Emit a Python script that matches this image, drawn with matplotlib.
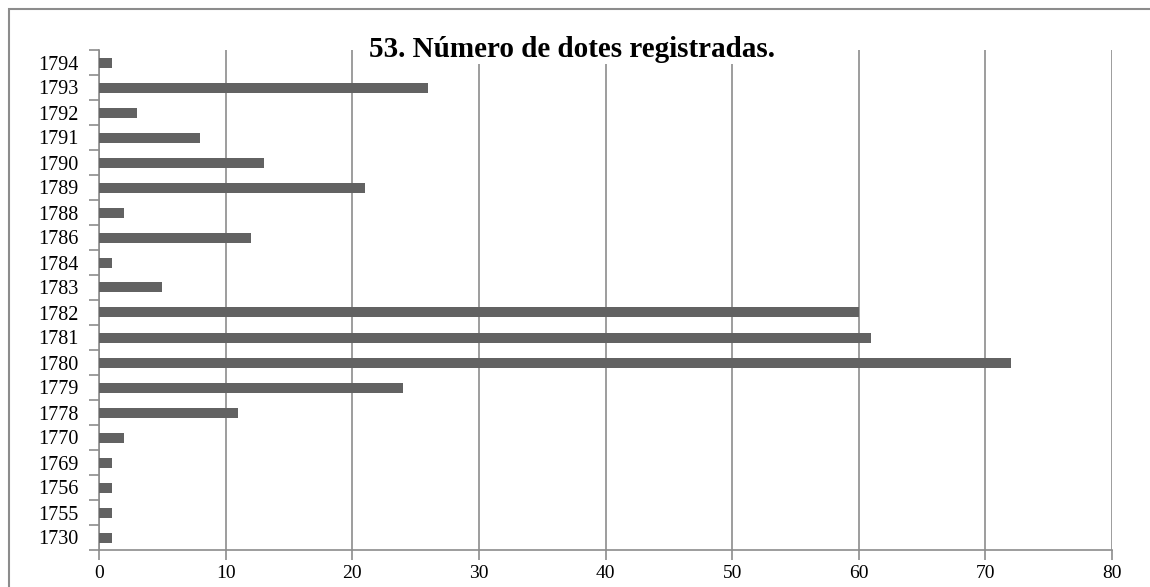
import matplotlib.pyplot as plt
from matplotlib.patches import Rectangle

# dotes per year, bottom to top
years = ['1730', '1755', '1756', '1769', '1770', '1778', '1779', '1780', '1781',
         '1782', '1783', '1784', '1786', '1788', '1789', '1790', '1791', '1792',
         '1793', '1794']
dotes = [1, 1, 1, 1, 2, 11, 24, 72, 61, 60, 5, 1, 12, 2, 21, 13, 8, 3, 26, 1]
xticks = [0, 10, 20, 30, 40, 50, 60, 70, 80]

plt.rcParams['font.family'] = ['Liberation Serif', 'DejaVu Serif']

W, H = 1150, 587
fig = plt.figure(figsize=(W / 100, H / 100), dpi=100)
ax = fig.add_axes([99 / W, 1 - 550 / H, (1112 - 99) / W, 500 / H])

grey = '#8c8c8c'

# outer chart frame (runs off the right and bottom edges)
fig.patches.append(Rectangle((9 / W, -0.1), 1.2, 1 - 9 / H + 0.1,
                             transform=fig.transFigure, fill=False,
                             edgecolor=grey, lw=1.5))

pos = range(len(years))
ax.barh(pos, dotes, height=0.4, color='#626262', zorder=3)

ax.set_xlim(0, 80)
ax.set_ylim(-0.5, len(years) - 0.5)
ax.set_xticks(xticks)
ax.set_xticklabels([str(v) for v in xticks], fontsize=14)
ax.set_yticks(list(pos))
ax.set_yticklabels(years, fontsize=14.5)
ax.set_yticks([p - 0.5 for p in range(len(years) + 1)], minor=True)

ax.grid(axis='x', color=grey, lw=1.2, zorder=0)
ax.tick_params(axis='y', which='major', length=0, pad=15)
ax.tick_params(axis='y', which='minor', length=7, width=1.2, color=grey)
ax.tick_params(axis='x', length=7, width=1.2, color=grey, pad=4)

for side in ['top', 'right']:
    ax.spines[side].set_visible(False)
for side in ['left', 'bottom']:
    ax.spines[side].set_color(grey)
    ax.spines[side].set_linewidth(1.2)

fig.text(0.497, 1 - 57 / H, '53. Número de dotes registradas.',
         ha='center', va='baseline', fontsize=21, fontweight='bold',
         bbox=dict(facecolor='white', edgecolor='none', pad=1), zorder=5)

fig.savefig('out.png', dpi=100)
